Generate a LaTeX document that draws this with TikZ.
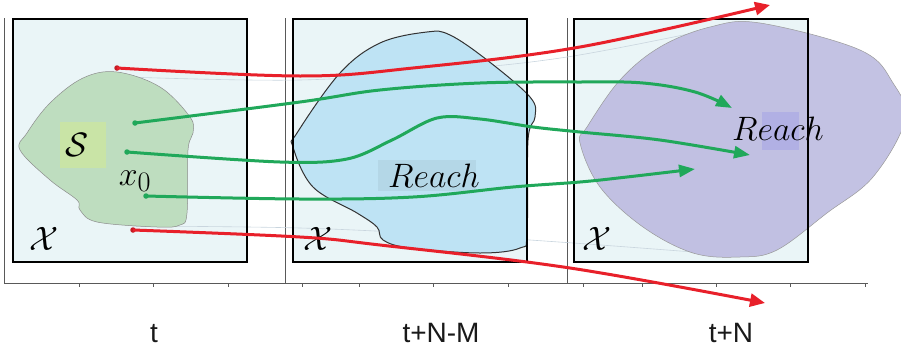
\documentclass[tikz,border=0pt]{standalone}
\usepackage{amsmath,amssymb}
\usepackage{graphicx}
\usepackage{fontspec}
\newfontfamily\timefont{Liberation Sans}
\usetikzlibrary{arrows.meta,positioning}
\definecolor{panelbg}{HTML}{EAF5F7}
\definecolor{setgreen}{HTML}{BEDDBF}
\definecolor{safeset}{HTML}{C9E4A6}
\definecolor{reachmid}{HTML}{BEE3F4}
\definecolor{reachend}{HTML}{BDBBE0}
\definecolor{trajred}{HTML}{E8202A}
\definecolor{trajgreen}{HTML}{20A85A}
\definecolor{envline}{HTML}{C9D5DE}
\newcommand{\biglbl}[1]{\scalebox{1.36}{\fontsize{24.88}{30}\selectfont$#1$}}
\begin{document}
\begin{tikzpicture}[x=1pt,y=-1pt,
  axisline/.style={draw=black!65,line width=0.8pt},
  panelbox/.style={draw=black,line width=1.4pt},
  mathlbl/.style={inner sep=0pt},
  timelbl/.style={inner sep=0pt,anchor=base,text=black!90,font=\timefont\fontsize{28}{32}\selectfont},
  startdot/.style={circle,inner sep=0pt,minimum size=5.5pt},
  badtraj/.style={draw=trajred,line width=3pt,-{Triangle[length=15pt,width=13pt]}},
  goodtraj/.style={draw=trajgreen,line width=3pt,-{Triangle[length=16pt,width=12pt]}}]
  \useasboundingbox (0,0) rectangle (901,351);
  % time axis
  \foreach \x in {4,285,567} \draw[axisline] (\x,18) -- (\x,283);
  \draw[axisline] (4,283) -- (868,283);
  \foreach \x in {79,153,228,302,359,433,508,583,642,716,790,865}
    \draw[axisline] (\x,283) -- (\x,287);
  % panel fills
  \foreach \x in {13,293,574} \fill[panelbg] (\x,19) rectangle ++(234,243);
  % envelope of the sets
  \draw[envline,line width=0.6pt] plot[smooth,tension=0.6] coordinates {(127,77) (300,80) (450,70) (567,57) (693,33)};
  \draw[envline,line width=0.6pt] plot[smooth,tension=0.6] coordinates {(133,226) (300,228) (450,235) (573,243) (693,252)};
  % initial set
  \draw[fill=setgreen,draw=black!45,line width=0.5pt] plot[smooth cycle,tension=0.6] coordinates {(117,72) (160,87) (190,117) (193,133) (188,150) (187,213) (180,225) (157,227) (97,222) (80,210) (77,200) (50,180) (20,150) (27,133) (50,103) (83,78)};
  \fill[safeset] (60,122) rectangle (106,168);
  % reachable sets
  \draw[fill=reachmid,draw=black!80,line width=1pt] plot[smooth cycle,tension=0.6] coordinates {(427,32) (450,35) (487,60) (530,97) (535,117) (528,140) (527,233) (520,248) (480,253) (410,248) (383,240) (377,227) (357,213) (313,187) (293,147) (297,133) (340,73) (380,43)};
  \draw[fill=reachend,fill opacity=0.9,draw=black!40,line width=0.5pt] plot[smooth cycle,tension=0.6] coordinates {(710,27) (760,23) (860,50) (893,83) (905,120) (873,177) (827,213) (777,250) (740,257) (693,253) (643,227) (600,187) (580,143) (587,127) (620,80) (660,47)};
  \fill[black!10!reachmid,opacity=0.5] (378,160) rectangle (476,191);
  \fill[blue!40!reachend,opacity=0.2] (762,112) rectangle (799,150);
  % labels
  \node[mathlbl] (S) at (77,145) {\biglbl{\mathcal{S}}};
  \node[mathlbl] (x0) at (135,181) {\biglbl{x_0}};
  \node[mathlbl] (Reach2) at (434,176) {\biglbl{Reach}};
  \node[mathlbl] (Reach3) at (778,129) {\biglbl{Reach}};
  \foreach \x/\n in {44/1,318/2,597/3} \node[mathlbl] (X\n) at (\x,239) {\biglbl{\mathcal{X}}};
  \node[timelbl] (T1) at (154,342) {t};
  \node[timelbl] (T2) at (441,342) {t+N-M};
  \node[timelbl] (T3) at (731,342) {t+N};
  % panel borders
  \foreach \x/\n in {13/1,293/2,574/3} \draw[panelbox] (\x,19) rectangle ++(234,243);
  % trajectories
  \node[startdot,fill=trajred!85!black] (r1) at (117,68) {};
  \node[startdot,fill=trajred!85!black] (r2) at (133,230) {};
  \node[startdot,fill=trajgreen] (g1) at (135,123) {};
  \node[startdot,fill=trajgreen] (g2) at (127,152) {};
  \node[startdot,fill=trajgreen] (g3) at (146,196) {};
  \coordinate (r1end) at (770,5);
  \coordinate (r2end) at (765,303);
  \coordinate (g1end) at (732,108);
  \coordinate (g2end) at (750,155);
  \coordinate (g3end) at (695,169);
  \draw[badtraj] plot[smooth,tension=0.6] coordinates {(r1.center) (300,76) (413,68) (580,47) (r1end)};
  \draw[badtraj] plot[smooth,tension=0.6] coordinates {(r2.center) (300,237) (380,245) (570,268) (r2end)};
  \draw[goodtraj] plot[smooth,tension=0.6] coordinates {(g1.center) (300,102) (380,90) (480,83) (580,82) (643,83) (695,92) (g1end)};
  \draw[goodtraj] plot[smooth,tension=0.55] coordinates {(g2.center) (280,162) (347,159) (392,140) (437,118) (480,119) (533,127) (580,132) (660,140) (g2end)};
  \draw[goodtraj] plot[smooth,tension=0.6] coordinates {(g3.center) (300,199) (413,197) (513,187) (580,182) (627,177) (g3end)};
\end{tikzpicture}
\end{document}
